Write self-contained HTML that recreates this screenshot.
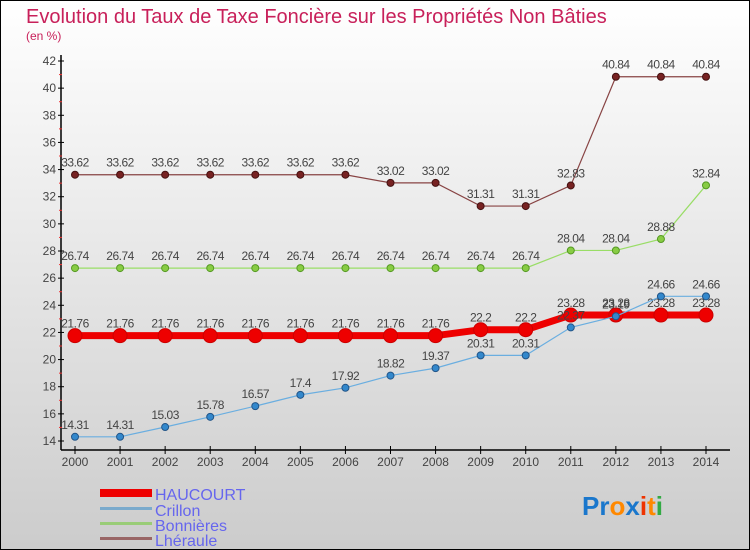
<!DOCTYPE html>
<html><head><meta charset="utf-8"><style>
body{margin:0;width:750px;height:550px;overflow:hidden}
svg{display:block;font-family:"Liberation Sans",sans-serif}
</style></head><body>
<svg id="c" width="750" height="550" xmlns="http://www.w3.org/2000/svg">
<defs><linearGradient id="bg" x1="0" y1="0" x2="0" y2="1"><stop offset="0" stop-color="#ffffff"/><stop offset="1" stop-color="#cccccc"/></linearGradient></defs>
<rect x="0.5" y="0.5" width="749" height="549" fill="url(#bg)" stroke="#000"/>
<text x="26" y="23" font-size="20" fill="#c8205a">Evolution du Taux de Taxe Foncière sur les Propriétés Non Bâties</text>
<text x="26" y="40" font-size="12" fill="#c8205a">(en %)</text>
<g id="axes"></g><g id="series"></g>
<g>
<rect x="100" y="489" width="52" height="8" fill="#ee0000"/>
<text x="155" y="500" font-size="16" fill="#6666ee">HAUCOURT</text>
<rect x="100" y="507" width="52" height="3" fill="#7aaacc"/>
<text x="155" y="516" font-size="16" fill="#6666ee">Crillon</text>
<rect x="100" y="522" width="52" height="3" fill="#99cc77"/>
<text x="155" y="531" font-size="16" fill="#6666ee">Bonnières</text>
<rect x="100" y="537" width="52" height="3" fill="#996666"/>
<text x="155" y="546" font-size="16" fill="#6666ee">Lhéraule</text>
</g>
<text x="582" y="515" font-size="26" font-weight="bold"><tspan fill="#1a77cc">Pr</tspan><tspan fill="#ff8800">o</tspan><tspan fill="#1a77cc">x</tspan><tspan fill="#ee3300">i</tspan><tspan fill="#ff8800">t</tspan><tspan fill="#33aa44">i</tspan></text>
</svg>
<script>
const years=[2000,2001,2002,2003,2004,2005,2006,2007,2008,2009,2010,2011,2012,2013,2014];
const haucourt=[21.76,21.76,21.76,21.76,21.76,21.76,21.76,21.76,21.76,22.2,22.2,23.28,23.28,23.28,23.28];
const crillon=[14.31,14.31,15.03,15.78,16.57,17.4,17.92,18.82,19.37,20.31,20.31,22.37,23.19,24.66,24.66];
const bonnieres=[26.74,26.74,26.74,26.74,26.74,26.74,26.74,26.74,26.74,26.74,26.74,28.04,28.04,28.88,32.84];
const lheraule=[33.62,33.62,33.62,33.62,33.62,33.62,33.62,33.02,33.02,31.31,31.31,32.83,40.84,40.84,40.84];
const yTicks=[14,16,18,20,22,24,26,28,30,32,34,36,38,40,42];
const NS="http://www.w3.org/2000/svg";
const X=i=>75+i*(706-75)/14;
const Y=v=>441-(v-14)*(441-61)/28;
function mk(p,t,a){const e=document.createElementNS(NS,t);for(const k in a)e.setAttribute(k,a[k]);p.appendChild(e);return e;}
const ax=document.getElementById('axes');
let l=mk(ax,'line',{x1:61,y1:55,x2:61,y2:450,stroke:'#000','stroke-width':1.5});


l=mk(ax,'line',{x1:61,y1:450,x2:730,y2:450,stroke:'#000','stroke-width':1.5});


yTicks.forEach(v=>{
 mk(ax,'line',{x1:58,y1:Y(v),x2:64,y2:Y(v),stroke:'#000'});
 if(v<42)mk(ax,'line',{x1:59,y1:Y(v+1),x2:62,y2:Y(v+1),stroke:'#e33'});
 const t=mk(ax,'text',{x:56,y:Y(v)+4,'text-anchor':'end','font-size':12,fill:'#444'});t.textContent=v;
 
 
});
years.forEach((y,i)=>{
 mk(ax,'line',{x1:X(i),y1:446,x2:X(i),y2:454,stroke:'#000'});
 const t=mk(ax,'text',{x:X(i),y:466,'text-anchor':'middle','font-size':12,fill:'#444'});t.textContent=y;
 
 
});
const sg=document.getElementById('series');
function draw(data,name,col,lw,r,dot,stroke){
 const g=mk(sg,'g',{});
 
 
 const pl=mk(g,'polyline',{points:data.map((v,i)=>X(i)+','+Y(v)).join(' '),fill:'none',stroke:col,'stroke-width':lw});
 
 
 data.forEach((v,i)=>{
  const c=mk(g,'circle',{cx:X(i),cy:Y(v),r:r,fill:dot,stroke:stroke,'stroke-width':1});
  
  
  const t=mk(g,'text',{x:X(i),y:Y(v)-8,'text-anchor':'middle','font-size':12,fill:'#444','letter-spacing':'-0.5'});t.textContent=v;
  
  
 });
}
draw(lheraule,'lheraule','#884444',1.2,3.5,'#772222','#441111');
draw(bonnieres,'bonnieres','#99dd66',1.2,3.5,'#88cc44','#559922');
draw(haucourt,'haucourt','#ee0000',7,7,'#ee0000','#cc0000');
draw(crillon,'crillon','#6aaee0',1.2,3.5,'#3388cc','#225588');
</script>
</body></html>
